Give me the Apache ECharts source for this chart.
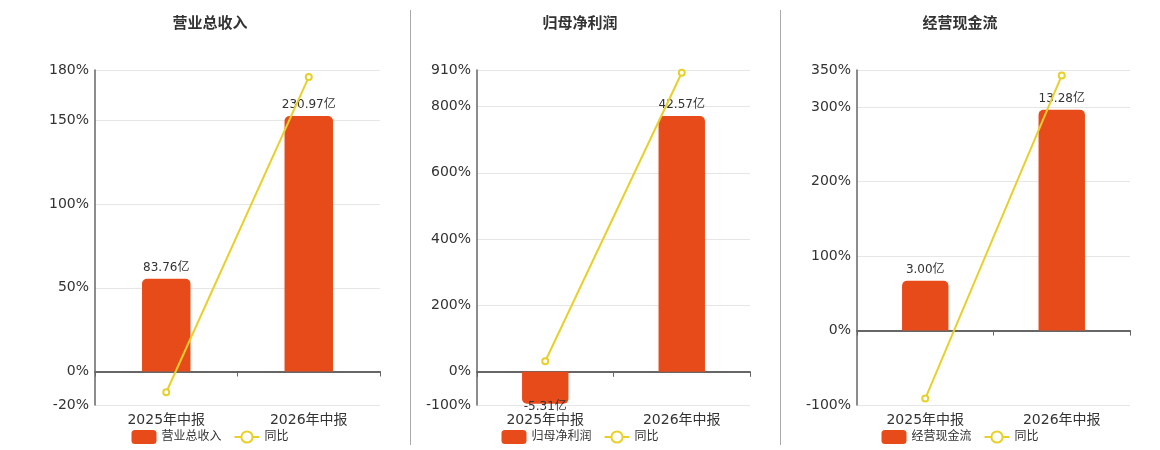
<!DOCTYPE html>
<html lang="zh">
<head>
    <meta charset="UTF-8">
    <title>中报对比</title>
    <script src="https://cdn.jsdelivr.net/npm/echarts@6/dist/echarts.min.js"></script>
    <style>
        body { margin: 0; background: #fff; }
        .box { position: absolute; top: 0; height: 450px; }
        .sep { position: absolute; top: 10px; height: 435px; width: 1px; background: #aaa; }
    </style>
</head>
<body>
<div id="c1" class="box" style="left:0;width:420px"></div>
<div id="c2" class="box" style="left:400px;width:360px"></div>
<div id="c3" class="box" style="left:780px;width:360px"></div>
<div class="sep" style="left:410px"></div>
<div class="sep" style="left:780px"></div>
<script>
    var categories = ['2025年中报', '2026年中报'];

    // 营业总收入
    var revenue = [83.76, 230.97];
    var revenueYoy = [-12.4, 175.76];
    var revenueTicks = [-20, 0, 50, 100, 150, 180];

    // 归母净利润
    var profit = [-5.31, 42.57];
    var profitYoy = [32, 901.69];
    var profitTicks = [-100, 0, 200, 400, 600, 800, 910];

    // 经营现金流
    var cashflow = [3.00, 13.28];
    var cashflowYoy = [-91.3, 342.67];
    var cashflowTicks = [-100, 0, 100, 200, 300, 350];

    var font = "'DejaVu Sans', 'Noto Sans CJK SC', sans-serif";
    var barColor = '#e84b1a';
    var lineColor = '#e8d02a';

    function makeOption(title, barName, bars, yoy, ticks, gridLeft, gridRight) {
        var pMin = ticks[0], pMax = ticks[ticks.length - 1];
        // 柱子用隐藏轴, 零点和百分比轴对齐
        var bMax = Math.max.apply(null, bars) * 1.18;
        var bMin = bMax * pMin / pMax;
        var barData = bars.map(function (v) {
            return {
                value: v,
                itemStyle: { borderRadius: v >= 0 ? [5, 5, 0, 0] : [0, 0, 5, 5] },
                label: { distance: v >= 0 ? 5 : -3 }
            };
        });
        return {
            textStyle: { fontFamily: font },
            title: {
                text: title,
                left: 'center',
                top: 12,
                textStyle: { fontSize: 15, fontWeight: 'bold', color: '#333', fontFamily: font }
            },
            legend: {
                bottom: 1,
                left: 'center',
                itemWidth: 25,
                itemHeight: 14,
                itemGap: 12,
                textStyle: { fontSize: 12, color: '#333', fontFamily: font },
                data: [{ name: barName, icon: 'roundRect' }, { name: '同比' }]
            },
            grid: { left: gridLeft, right: gridRight, top: 70, bottom: 45 },
            xAxis: [
                {
                    type: 'category',
                    data: categories,
                    axisLine: { onZero: true, onZeroAxisIndex: 0, lineStyle: { color: '#666', width: 2 } },
                    axisTick: { show: true, length: 5, lineStyle: { color: '#666' } },
                    axisLabel: { show: false }
                },
                {
                    type: 'category',
                    position: 'bottom',
                    data: categories,
                    axisLine: { show: false, onZero: false },
                    axisTick: { show: false },
                    axisLabel: { fontSize: 14, color: '#333', margin: 8, fontFamily: font }
                }
            ],
            yAxis: [
                {
                    type: 'value',
                    min: pMin,
                    max: pMax,
                    axisLine: { show: true, lineStyle: { color: '#666', width: 1.5 } },
                    axisTick: { show: false, customValues: ticks },
                    axisLabel: {
                        customValues: ticks,
                        formatter: '{value}%',
                        fontSize: 14,
                        color: '#333',
                        margin: 6,
                        fontFamily: font
                    },
                    splitLine: { lineStyle: { color: '#e6e6e6' } }
                },
                {
                    type: 'value',
                    min: bMin,
                    max: bMax,
                    show: false,
                    splitLine: { show: false }
                }
            ],
            series: [
                {
                    name: barName,
                    type: 'bar',
                    xAxisIndex: 0,
                    yAxisIndex: 1,
                    barWidth: '34%',
                    itemStyle: { color: barColor },
                    label: {
                        show: true,
                        position: 'outside',
                        distance: 5,
                        fontSize: 12,
                        color: '#333',
                        fontFamily: font,
                        formatter: function (p) { return p.value.toFixed(2) + '亿'; }
                    },
                    data: barData
                },
                {
                    name: '同比',
                    type: 'line',
                    xAxisIndex: 0,
                    yAxisIndex: 0,
                    symbol: 'emptyCircle',
                    symbolSize: 6,
                    itemStyle: { color: lineColor },
                    lineStyle: { color: lineColor, width: 2 },
                    z: 5,
                    data: yoy
                }
            ]
        };
    }

    var chart1 = echarts.init(document.getElementById('c1'));
    chart1.setOption(makeOption('营业总收入', '营业总收入', revenue, revenueYoy, revenueTicks, 95, 40));

    var chart2 = echarts.init(document.getElementById('c2'));
    chart2.setOption(makeOption('归母净利润', '归母净利润', profit, profitYoy, profitTicks, 77, 10));

    var chart3 = echarts.init(document.getElementById('c3'));
    chart3.setOption(makeOption('经营现金流', '经营现金流', cashflow, cashflowYoy, cashflowTicks, 77, 10));
</script>
</body>
</html>
